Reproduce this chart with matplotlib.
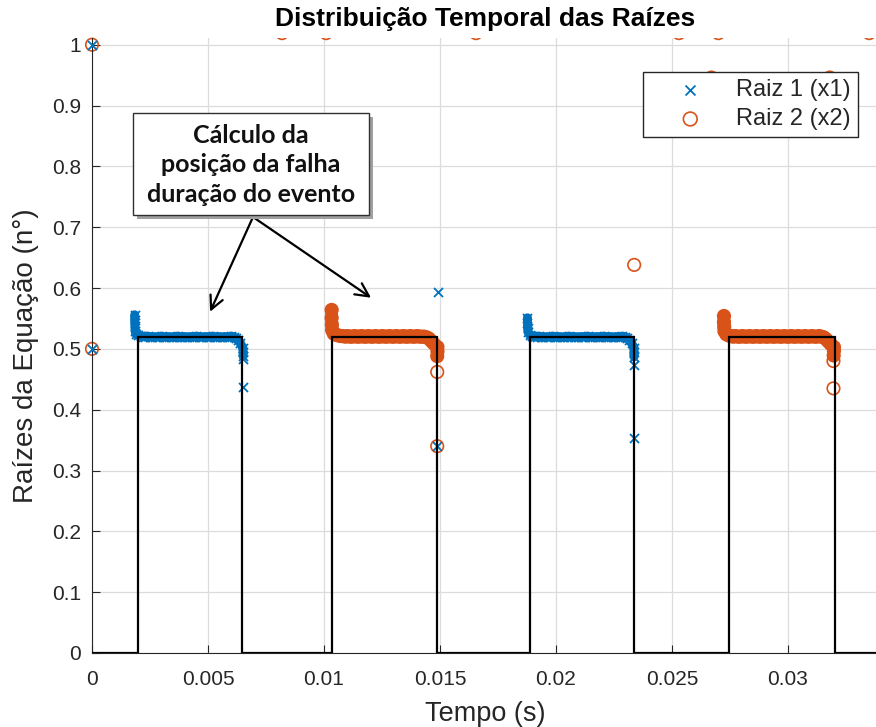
import numpy as np
import matplotlib
matplotlib.use("Agg")
import matplotlib.pyplot as plt
from matplotlib.patches import Rectangle

plt.rcParams['font.family'] = ['Liberation Sans', 'DejaVu Sans']

# ---------------- data ----------------
dt = 1e-4  # sampling step of the dense root bands

# Raiz 1 (x1)
r1_start_t = [0.0, 0.0]
r1_start_y = [0.5, 1.0]
r1_seg1_head_t = [0.00184, 0.00184, 0.00185, 0.00186]
r1_seg1_head_y = [0.556, 0.548, 0.538, 0.529]
r1_seg1_t0 = 0.00190
r1_seg1_y = [0.524, 0.522, 0.521, 0.520, 0.520, 0.521, 0.520, 0.520, 0.519, 0.520,
             0.520, 0.521, 0.520, 0.520, 0.520, 0.519, 0.520, 0.520, 0.521, 0.520,
             0.520, 0.520, 0.519, 0.520, 0.520, 0.520, 0.521, 0.520, 0.520, 0.519,
             0.520, 0.520, 0.520, 0.521, 0.520, 0.520, 0.520, 0.519, 0.520, 0.520,
             0.520, 0.521, 0.520, 0.518, 0.514, 0.509]
r1_seg1_edge_t = [0.00650, 0.00651, 0.00651, 0.00650, 0.00650]
r1_seg1_edge_y = [0.502, 0.495, 0.488, 0.483, 0.437]
r1_seg2_t = [0.01490, 0.01487]
r1_seg2_y = [0.594, 0.340]
r1_seg3_head_t = [0.01877, 0.01877, 0.01878, 0.01879]
r1_seg3_head_y = [0.551, 0.543, 0.535, 0.528]
r1_seg3_t0 = 0.01886
r1_seg3_y = [0.523, 0.521, 0.520, 0.520, 0.521, 0.520, 0.520, 0.519, 0.520, 0.520,
             0.521, 0.520, 0.520, 0.520, 0.519, 0.520, 0.520, 0.521, 0.520, 0.520,
             0.520, 0.519, 0.520, 0.520, 0.520, 0.521, 0.520, 0.520, 0.519, 0.520,
             0.520, 0.520, 0.521, 0.520, 0.520, 0.520, 0.519, 0.520, 0.520, 0.520,
             0.521, 0.520, 0.518, 0.514, 0.509]
r1_seg3_edge_t = [0.02336, 0.02336, 0.02336, 0.02337, 0.02336]
r1_seg3_edge_y = [0.502, 0.495, 0.487, 0.474, 0.354]

# Raiz 2 (x2)
r2_start_t = [0.0, 0.0]
r2_start_y = [0.5, 1.0]
r2_top_t = [0.00819, 0.01009, 0.01655, 0.02530, 0.02700, 0.03350]
r2_top_y = [1.019, 1.019, 1.019, 1.019, 1.019, 1.019]
r2_hidden_t = [0.02670, 0.03180]
r2_hidden_y = [0.946, 0.946]
r2_seg2_head_t = [0.01033, 0.01033, 0.01034, 0.01035]
r2_seg2_head_y = [0.564, 0.551, 0.540, 0.531]
r2_seg2_t0 = 0.01042
r2_seg2_y = [0.525, 0.523, 0.522, 0.521, 0.521, 0.520, 0.521, 0.520, 0.520, 0.521,
             0.520, 0.520, 0.521, 0.520, 0.520, 0.521, 0.520, 0.520, 0.521, 0.520,
             0.520, 0.521, 0.520, 0.520, 0.521, 0.520, 0.520, 0.521, 0.520, 0.520,
             0.521, 0.520, 0.520, 0.521, 0.520, 0.520, 0.521, 0.520, 0.520, 0.520,
             0.519, 0.517, 0.513, 0.509]
r2_seg2_edge_t = [0.01489, 0.01489, 0.01488, 0.01488, 0.01488]
r2_seg2_edge_y = [0.503, 0.496, 0.488, 0.462, 0.340]
r2_seg3_t = [0.02337]
r2_seg3_y = [0.638]
r2_seg4_head_t = [0.02724, 0.02724, 0.02725, 0.02726]
r2_seg4_head_y = [0.554, 0.544, 0.536, 0.529]
r2_seg4_t0 = 0.02734
r2_seg4_y = [0.524, 0.522, 0.521, 0.520, 0.521, 0.520, 0.520, 0.521, 0.520, 0.520,
             0.521, 0.520, 0.520, 0.521, 0.520, 0.520, 0.521, 0.520, 0.520, 0.521,
             0.520, 0.520, 0.521, 0.520, 0.520, 0.521, 0.520, 0.520, 0.521, 0.520,
             0.520, 0.521, 0.520, 0.520, 0.521, 0.520, 0.520, 0.521, 0.520, 0.520,
             0.521, 0.520, 0.519, 0.516, 0.512, 0.508]
r2_seg4_edge_t = [0.03198, 0.03198, 0.03197, 0.03196, 0.03196]
r2_seg4_edge_y = [0.503, 0.497, 0.489, 0.480, 0.435]

# fault indicator (step signal)
fault_edges = [0.0, 0.00198, 0.00647, 0.01034, 0.01487, 0.01888, 0.02336,
               0.02746, 0.03203, 0.0345]
fault_levels = [0.0, 0.52, 0.0, 0.52, 0.0, 0.52, 0.0, 0.52, 0.0]

xticks = [0, 0.005, 0.01, 0.015, 0.02, 0.025, 0.03]
xticklabels = ['0', '0.005', '0.01', '0.015', '0.02', '0.025', '0.03']
yticks = [0, 0.1, 0.2, 0.3, 0.4, 0.5, 0.6, 0.7, 0.8, 0.9, 1.0]
yticklabels = ['0', '0.1', '0.2', '0.3', '0.4', '0.5', '0.6', '0.7', '0.8', '0.9', '1']

title = 'Distribuição Temporal das Raízes'
xlabel = 'Tempo (s)'
ylabel = 'Raízes da Equação (n°)'
legend_labels = ['Raiz 1 (x1)', 'Raiz 2 (x2)']
note_text = 'Cálculo da\nposição da falha\nduração do evento'

# ---------------- helpers ----------------
def segment(ht, hy, t0, vals, et, ey):
    t = np.concatenate([ht, t0 + dt * np.arange(len(vals)), et])
    y = np.concatenate([hy, vals, ey])
    return t, y

r1_segs = [segment(r1_seg1_head_t, r1_seg1_head_y, r1_seg1_t0, r1_seg1_y, r1_seg1_edge_t, r1_seg1_edge_y),
           segment(r1_seg3_head_t, r1_seg3_head_y, r1_seg3_t0, r1_seg3_y, r1_seg3_edge_t, r1_seg3_edge_y)]
r2_segs = [segment(r2_seg2_head_t, r2_seg2_head_y, r2_seg2_t0, r2_seg2_y, r2_seg2_edge_t, r2_seg2_edge_y),
           segment(r2_seg4_head_t, r2_seg4_head_y, r2_seg4_t0, r2_seg4_y, r2_seg4_edge_t, r2_seg4_edge_y)]

r1_t = np.concatenate([s[0] for s in r1_segs] + [r1_seg2_t])
r1_y = np.concatenate([s[1] for s in r1_segs] + [r1_seg2_y])
r2_t = np.concatenate([r2_top_t, r2_hidden_t] + [s[0] for s in r2_segs] + [r2_seg3_t])
r2_y = np.concatenate([r2_top_y, r2_hidden_y] + [s[1] for s in r2_segs] + [r2_seg3_y])

# ---------------- figure ----------------
W, H = 876, 727
fig = plt.figure(figsize=(W / 100, H / 100), dpi=100)
ax = fig.add_axes([92 / W, (H - 653) / H, (878 - 92) / W, (653 - 38) / H])

blue = '#0072BD'
orange = '#D95319'
txtc = '#262626'

# dense bands (samples overlap into a solid stroke) - drop the far outliers of each edge
for t, y in r1_segs:
    ax.plot(t[:-2], y[:-2], '-', color=blue, lw=6.5, solid_capstyle='round',
            solid_joinstyle='round', zorder=3)
for t, y in r2_segs:
    ax.plot(t[:-2], y[:-2], '-', color=orange, lw=9.0, solid_capstyle='round',
            solid_joinstyle='round', zorder=2)

x_style = dict(marker='x', color=blue, s=6.5 ** 2, linewidths=1.3, zorder=3)
o_style = dict(marker='o', facecolors='none', edgecolors=orange, s=9 ** 2,
               linewidths=1.2, zorder=2)
ax.scatter(r1_t, r1_y, label=legend_labels[0], **x_style)
ax.scatter(r2_t, r2_y, label=legend_labels[1], **o_style)
# markers on the y axis itself are drawn whole (not cut by the axes edge)
ax.scatter(r2_start_t, r2_start_y, clip_on=False, **o_style)
ax.scatter(r1_start_t, r1_start_y, clip_on=False, **x_style)
ax.stairs(fault_levels, fault_edges, color='black', linewidth=1.6, zorder=4, baseline=None)

ax.set_xlim(0, 0.03388)
ax.set_ylim(0, 1.011)
ax.set_xticks(xticks)
ax.set_xticklabels(xticklabels)
ax.set_yticks(yticks)
ax.set_yticklabels(yticklabels)
ax.tick_params(direction='in', length=6, width=0.8, colors=txtc, labelsize=15,
               labelcolor=txtc)
ax.tick_params(axis='x', pad=12)
ax.tick_params(axis='y', pad=8)
ax.grid(True, color='#dcdcdc', linewidth=0.9)
ax.set_axisbelow(True)
for s in ['top', 'right']:
    ax.spines[s].set_visible(False)
for s in ['left', 'bottom']:
    ax.spines[s].set_color(txtc)
    ax.spines[s].set_linewidth(0.8)

fig.text(485 / W, (H - 19) / H, title, ha='center', va='center', fontsize=19,
         fontweight='bold', color='black')
ax.set_xlabel(xlabel, fontsize=19.5, color=txtc, labelpad=9)
ax.set_ylabel(ylabel, fontsize=20, color=txtc)
ax.yaxis.set_label_coords(-0.068, (653 - 356) / 615)

leg = ax.legend(loc='upper right', bbox_to_anchor=((858 - 92) / 786, (653 - 72) / 615),
                borderaxespad=0, fontsize=17, frameon=True, fancybox=False,
                edgecolor='#262626', framealpha=1, handletextpad=0.25, borderpad=0.3,
                labelspacing=0.3, handlelength=3.4, markerscale=1.1, scatterpoints=1)
leg.get_frame().set_linewidth(1.0)
leg.set_zorder(10)
for t in leg.get_texts():
    t.set_color(txtc)

# annotation box with shadow
bx0, by0, bw, bh = 133, 113, 236, 102
fig.patches.append(Rectangle(((bx0 + 4) / W, (H - by0 - bh - 4) / H), bw / W, bh / H,
                             transform=fig.transFigure, facecolor='#a0a0a0',
                             edgecolor='none', zorder=20))
fig.patches.append(Rectangle((bx0 / W, (H - by0 - bh) / H), bw / W, bh / H,
                             transform=fig.transFigure, facecolor='white',
                             edgecolor='#303030', linewidth=1.0, zorder=21))
fig.text((bx0 + bw / 2) / W, (H - by0 - bh / 2 - 1) / H, note_text, ha='center', va='center',
         fontsize=18, fontweight='bold', family=['Lato', 'DejaVu Sans'],
         linespacing=1.33, color='#111111', zorder=22)

start = ((bx0 + 120) / W, (H - by0 - bh - 2) / H)
for tip in [(0.00509, 0.561), (0.01203, 0.584)]:
    ax.annotate('', xy=tip, xycoords='data', xytext=start, textcoords='figure fraction',
                arrowprops=dict(arrowstyle='->', color='black', lw=1.6,
                                mutation_scale=24, shrinkA=0, shrinkB=0), zorder=15)

fig.savefig('out.png', dpi=100)
